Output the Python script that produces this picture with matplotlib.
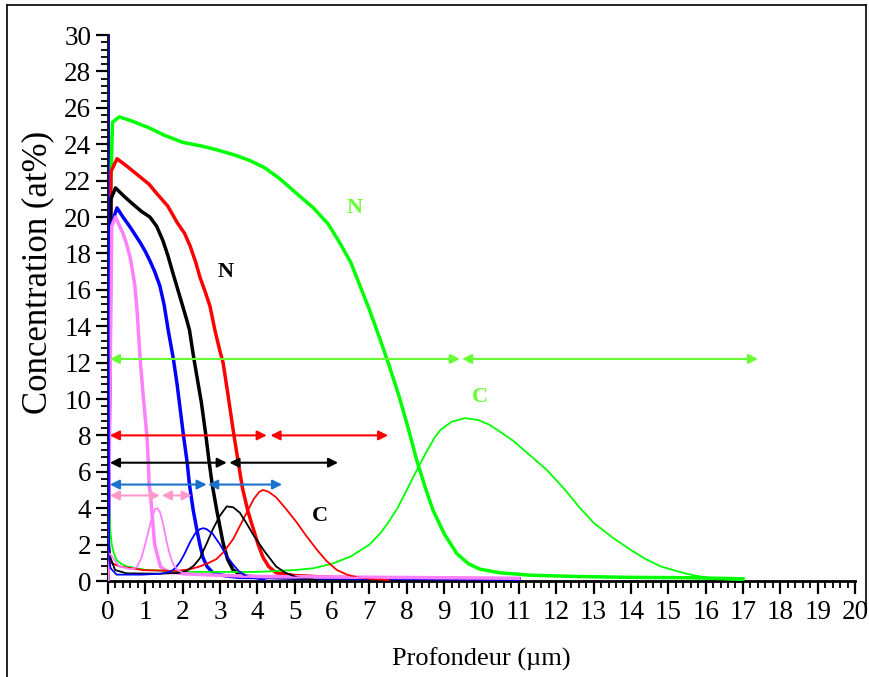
import numpy as np
import matplotlib
matplotlib.use('Agg')
import matplotlib.pyplot as plt
from matplotlib.ticker import MultipleLocator, AutoMinorLocator
from matplotlib.lines import Line2D

plt.rcParams['font.family'] = ['Liberation Serif', 'DejaVu Serif']

# profils N (bruités dans l'original)
green_n_x = [0, 0.05, 0.12, 0.3, 0.6, 1.1, 1.5, 2.0, 2.5, 2.9, 3.4, 3.8, 4.2, 4.6, 5.1, 5.5, 5.9, 6.2, 6.5,
             6.75, 7.0, 7.28, 7.55, 7.8, 8.05, 8.27, 8.5, 8.7, 9.0, 9.34, 9.65, 9.96, 10.5, 11.3, 12.5, 14, 15.5, 17]
green_n_y = [0, 20, 25.2, 25.5, 25.3, 24.9, 24.5, 24.1, 23.9, 23.7, 23.4, 23.1, 22.7, 22.1, 21.2, 20.5, 19.6, 18.6, 17.5,
             16.2, 14.9, 13.3, 11.7, 10.1, 8.3, 6.6, 5.1, 3.9, 2.6, 1.5, 0.95, 0.65, 0.45, 0.32, 0.25, 0.2, 0.18, 0.12]

red_n_x = [0, 0.08, 0.24, 0.5, 0.86, 1.1, 1.3, 1.6, 1.85, 2.05, 2.2, 2.35, 2.46, 2.6, 2.73, 2.86, 3.0, 3.08, 3.2,
           3.35, 3.48, 3.6, 3.75, 3.9, 4.02, 4.15, 4.3, 4.5, 5, 6, 8, 11]
red_n_y = [0, 22.5, 23.2, 22.8, 22.2, 21.8, 21.3, 20.6, 19.7, 19.1, 18.4, 17.5, 16.7, 15.9, 15.1, 13.8, 12.6, 12.0, 10.4,
           8.3, 6.6, 5.1, 3.8, 2.8, 2.0, 1.3, 0.8, 0.45, 0.3, 0.2, 0.15, 0.12]

black_n_x = [0, 0.08, 0.2, 0.45, 0.67, 0.9, 1.12, 1.3, 1.47, 1.6, 1.74, 1.87, 2.0, 2.1, 2.18, 2.3, 2.5, 2.62,
             2.71, 2.79, 2.91, 3.08, 3.2, 3.35, 3.55, 3.8, 5, 11]
black_n_y = [0, 21.0, 21.6, 21.1, 20.7, 20.3, 20.0, 19.5, 18.7, 17.9, 16.9, 16.0, 15.1, 14.4, 13.8, 12.2, 9.8, 8.0,
             6.5, 5.3, 3.9, 2.1, 1.2, 0.6, 0.35, 0.25, 0.15, 0.1]

blue_n_x = [0, 0.08, 0.24, 0.4, 0.59, 0.86, 1.0, 1.12, 1.25, 1.39, 1.5, 1.61, 1.75, 1.85, 2.02, 2.12, 2.18,
            2.28, 2.38, 2.46, 2.54, 2.65, 2.81, 3.1, 3.5, 11]
blue_n_y = [0, 19.5, 20.5, 20.0, 19.45, 18.6, 18.1, 17.6, 17.0, 16.2, 15.2, 13.8, 12.2, 10.8, 8.0, 6.5, 5.3,
            3.9, 2.8, 2.0, 1.3, 0.8, 0.45, 0.3, 0.2, 0.1]

pink_n_x = [0, 0.1, 0.2, 0.4, 0.5, 0.59, 0.66, 0.72, 0.78, 0.86, 0.95, 1.04, 1.08, 1.1, 1.14, 1.17, 1.25, 1.4, 1.6,
            2.0, 2.5, 4, 11]
pink_n_y = [0, 19.5, 20.0, 19.1, 18.5, 17.8, 17.0, 16.2, 14.8, 12.2, 10.0, 8.0, 6.5, 5.3, 4.7, 3.9, 2.0, 0.8, 0.5,
            0.4, 0.35, 0.25, 0.15]

# profils C
green_c_x = [0.03, 0.06, 0.1, 0.16, 0.23, 0.35, 0.5, 1.03, 2.3, 4.0, 5.0, 5.5, 6.0, 6.5, 7.0, 7.28, 7.5, 7.75, 8.0,
             8.17, 8.5, 8.75, 8.9, 9.2, 9.56, 9.9, 10.2, 10.5, 10.85, 11.3, 11.75, 12.2, 12.6, 13.0, 13.5, 14.0,
             14.4, 14.8, 15.3, 15.7, 16.2, 16.6, 17.0]
green_c_y = [4.0, 2.8, 2.0, 1.5, 1.15, 0.95, 0.8, 0.6, 0.5, 0.5, 0.6, 0.7, 0.95, 1.35, 2.0, 2.6, 3.2, 4.0, 5.0,
             5.7, 7.0, 7.9, 8.3, 8.75, 8.95, 8.85, 8.6, 8.2, 7.7, 6.9, 6.1, 5.1, 4.1, 3.2, 2.4, 1.7,
             1.2, 0.8, 0.5, 0.3, 0.15, 0.08, 0.05]

red_c_x = [0.03, 0.07, 0.32, 0.94, 1.83, 2.2, 2.46, 2.7, 2.9, 3.1, 3.35, 3.55, 3.7, 3.9, 4.05, 4.15, 4.3, 4.5,
           4.75, 5.06, 5.3, 5.6, 5.85, 6.13, 6.4, 6.67, 7.0, 7.5]
red_c_y = [1.4, 1.0, 0.8, 0.6, 0.55, 0.65, 0.8, 1.0, 1.2, 1.6, 2.3, 3.1, 3.7, 4.5, 4.9, 5.0, 4.9, 4.6,
           4.0, 3.2, 2.5, 1.7, 1.1, 0.6, 0.35, 0.2, 0.12, 0.05]

black_c_x = [0.03, 0.07, 0.19, 0.5, 1.4, 1.9, 2.1, 2.3, 2.46, 2.65, 2.82, 3.0, 3.18, 3.35, 3.53, 3.7, 3.9, 4.2,
             4.5, 4.75, 5.06, 5.6]
black_c_y = [2.0, 1.25, 0.6, 0.42, 0.4, 0.45, 0.55, 0.85, 1.25, 2.1, 2.9, 3.6, 4.1, 4.05, 3.75, 3.2, 2.5, 1.6,
             0.8, 0.45, 0.2, 0.05]

blue_c_x = [0, 0.03, 0.07, 0.23, 0.9, 1.4, 1.66, 1.8, 1.93, 2.05, 2.2, 2.33, 2.46, 2.55, 2.64, 2.8, 3.0, 3.17,
            3.35, 3.5, 3.7, 4.2]
blue_c_y = [30, 1.2, 0.7, 0.35, 0.35, 0.4, 0.5, 0.7, 1.05, 1.5, 2.15, 2.6, 2.85, 2.9, 2.85, 2.6, 2.0, 1.4,
            0.9, 0.55, 0.25, 0.05]

pink_c_x = [0.05, 0.3, 0.6, 0.77, 0.9, 1.03, 1.15, 1.26, 1.32, 1.39, 1.48, 1.57, 1.66, 1.75, 1.87, 2.0, 3.0, 4.0, 11]
pink_c_y = [1.5, 0.8, 0.65, 0.75, 1.3, 2.3, 3.3, 3.95, 4.0, 3.8, 3.1, 2.15, 1.4, 0.9, 0.6, 0.45, 0.3, 0.2, 0.15]

# flèches (x début, x fin, y)
arrow_green = [(0.05, 9.42, 12.2), (9.48, 17.4, 12.2)]
arrow_red = [(0.05, 4.25, 8.0), (4.35, 7.5, 8.0)]
arrow_black = [(0.05, 3.18, 6.5), (3.25, 6.16, 6.5)]
arrow_blue = [(0.05, 2.64, 5.3), (2.68, 4.66, 5.3)]
arrow_pink = [(0.05, 1.39, 4.7), (1.44, 2.24, 4.7)]

fig = plt.figure(figsize=(8.69, 6.77), dpi=100)
ax = fig.add_axes([0.1243, 0.1418, 0.8596, 0.8065])

c_green, c_red, c_black, c_blue, c_pink = '#00ff00', '#ff0000', '#000000', '#0000ff', '#ff80ff'

for xs, ys, c in [(green_n_x, green_n_y, c_green), (red_n_x, red_n_y, c_red),
                  (black_n_x, black_n_y, c_black), (blue_n_x, blue_n_y, c_blue),
                  (pink_n_x, pink_n_y, c_pink)]:
    ax.plot(xs, ys, color=c, lw=2.5, zorder=3)

for xs, ys, c in [(green_c_x, green_c_y, c_green), (red_c_x, red_c_y, c_red),
                  (black_c_x, black_c_y, c_black), (blue_c_x, blue_c_y, c_blue),
                  (pink_c_x, pink_c_y, c_pink)]:
    ax.plot(xs, ys, color=c, lw=1.3, zorder=3)

for arrows, c in [(arrow_green, '#66ff33'), (arrow_red, '#ff0000'), (arrow_black, '#000000'),
                  (arrow_blue, '#1a72cc'), (arrow_pink, '#ff99cc')]:
    for x0, x1, y in arrows:
        ax.annotate('', xy=(x1, y), xytext=(x0, y),
                    arrowprops=dict(arrowstyle='<|-|>', color=c, lw=1.5,
                                    mutation_scale=14, shrinkA=0, shrinkB=0), zorder=4)

ax.text(3.16, 17.0, 'N', fontsize=16, fontweight='bold', color='black', ha='center', va='center')
ax.text(5.68, 3.57, 'C', fontsize=16, fontweight='bold', color='black', ha='center', va='center')
ax.text(6.61, 20.5, 'N', fontsize=16, fontweight='bold', color='#66ff33', ha='center', va='center')
ax.text(9.96, 10.1, 'C', fontsize=16, fontweight='bold', color='#66ff33', ha='center', va='center')

ax.set_xlim(0, 20)
ax.set_ylim(0, 30)
ax.xaxis.set_major_locator(MultipleLocator(1))
ax.xaxis.set_minor_locator(AutoMinorLocator(5))
ax.yaxis.set_major_locator(MultipleLocator(2))
ax.yaxis.set_minor_locator(AutoMinorLocator(5))

for s in ['top', 'right']:
    ax.spines[s].set_visible(False)
for s in ['left', 'bottom']:
    ax.spines[s].set_linewidth(2)

ax.tick_params(which='major', direction='out', length=9, width=1.6, labelsize=19.5)
ax.tick_params(axis='y', which='major', pad=3)
ax.tick_params(axis='x', which='major', pad=5)
ax.tick_params(which='minor', direction='out', length=5, width=1.3)

ax.set_xlabel('Profondeur (µm)', fontsize=19, labelpad=16)
ax.set_ylabel('Concentration (at%)', fontsize=25)
ax.yaxis.set_label_coords(-0.072, 0.566)

# cadre autour de la figure
fig.add_artist(Line2D([0.008, 0.9965], [0.9926, 0.9926], color='black', lw=1.2))
fig.add_artist(Line2D([0.008, 0.008], [0.0, 0.9926], color='black', lw=1.2))
fig.add_artist(Line2D([0.9965, 0.9965], [0.1, 0.9926], color='black', lw=1.2))

fig.savefig('out.png', dpi=100)
